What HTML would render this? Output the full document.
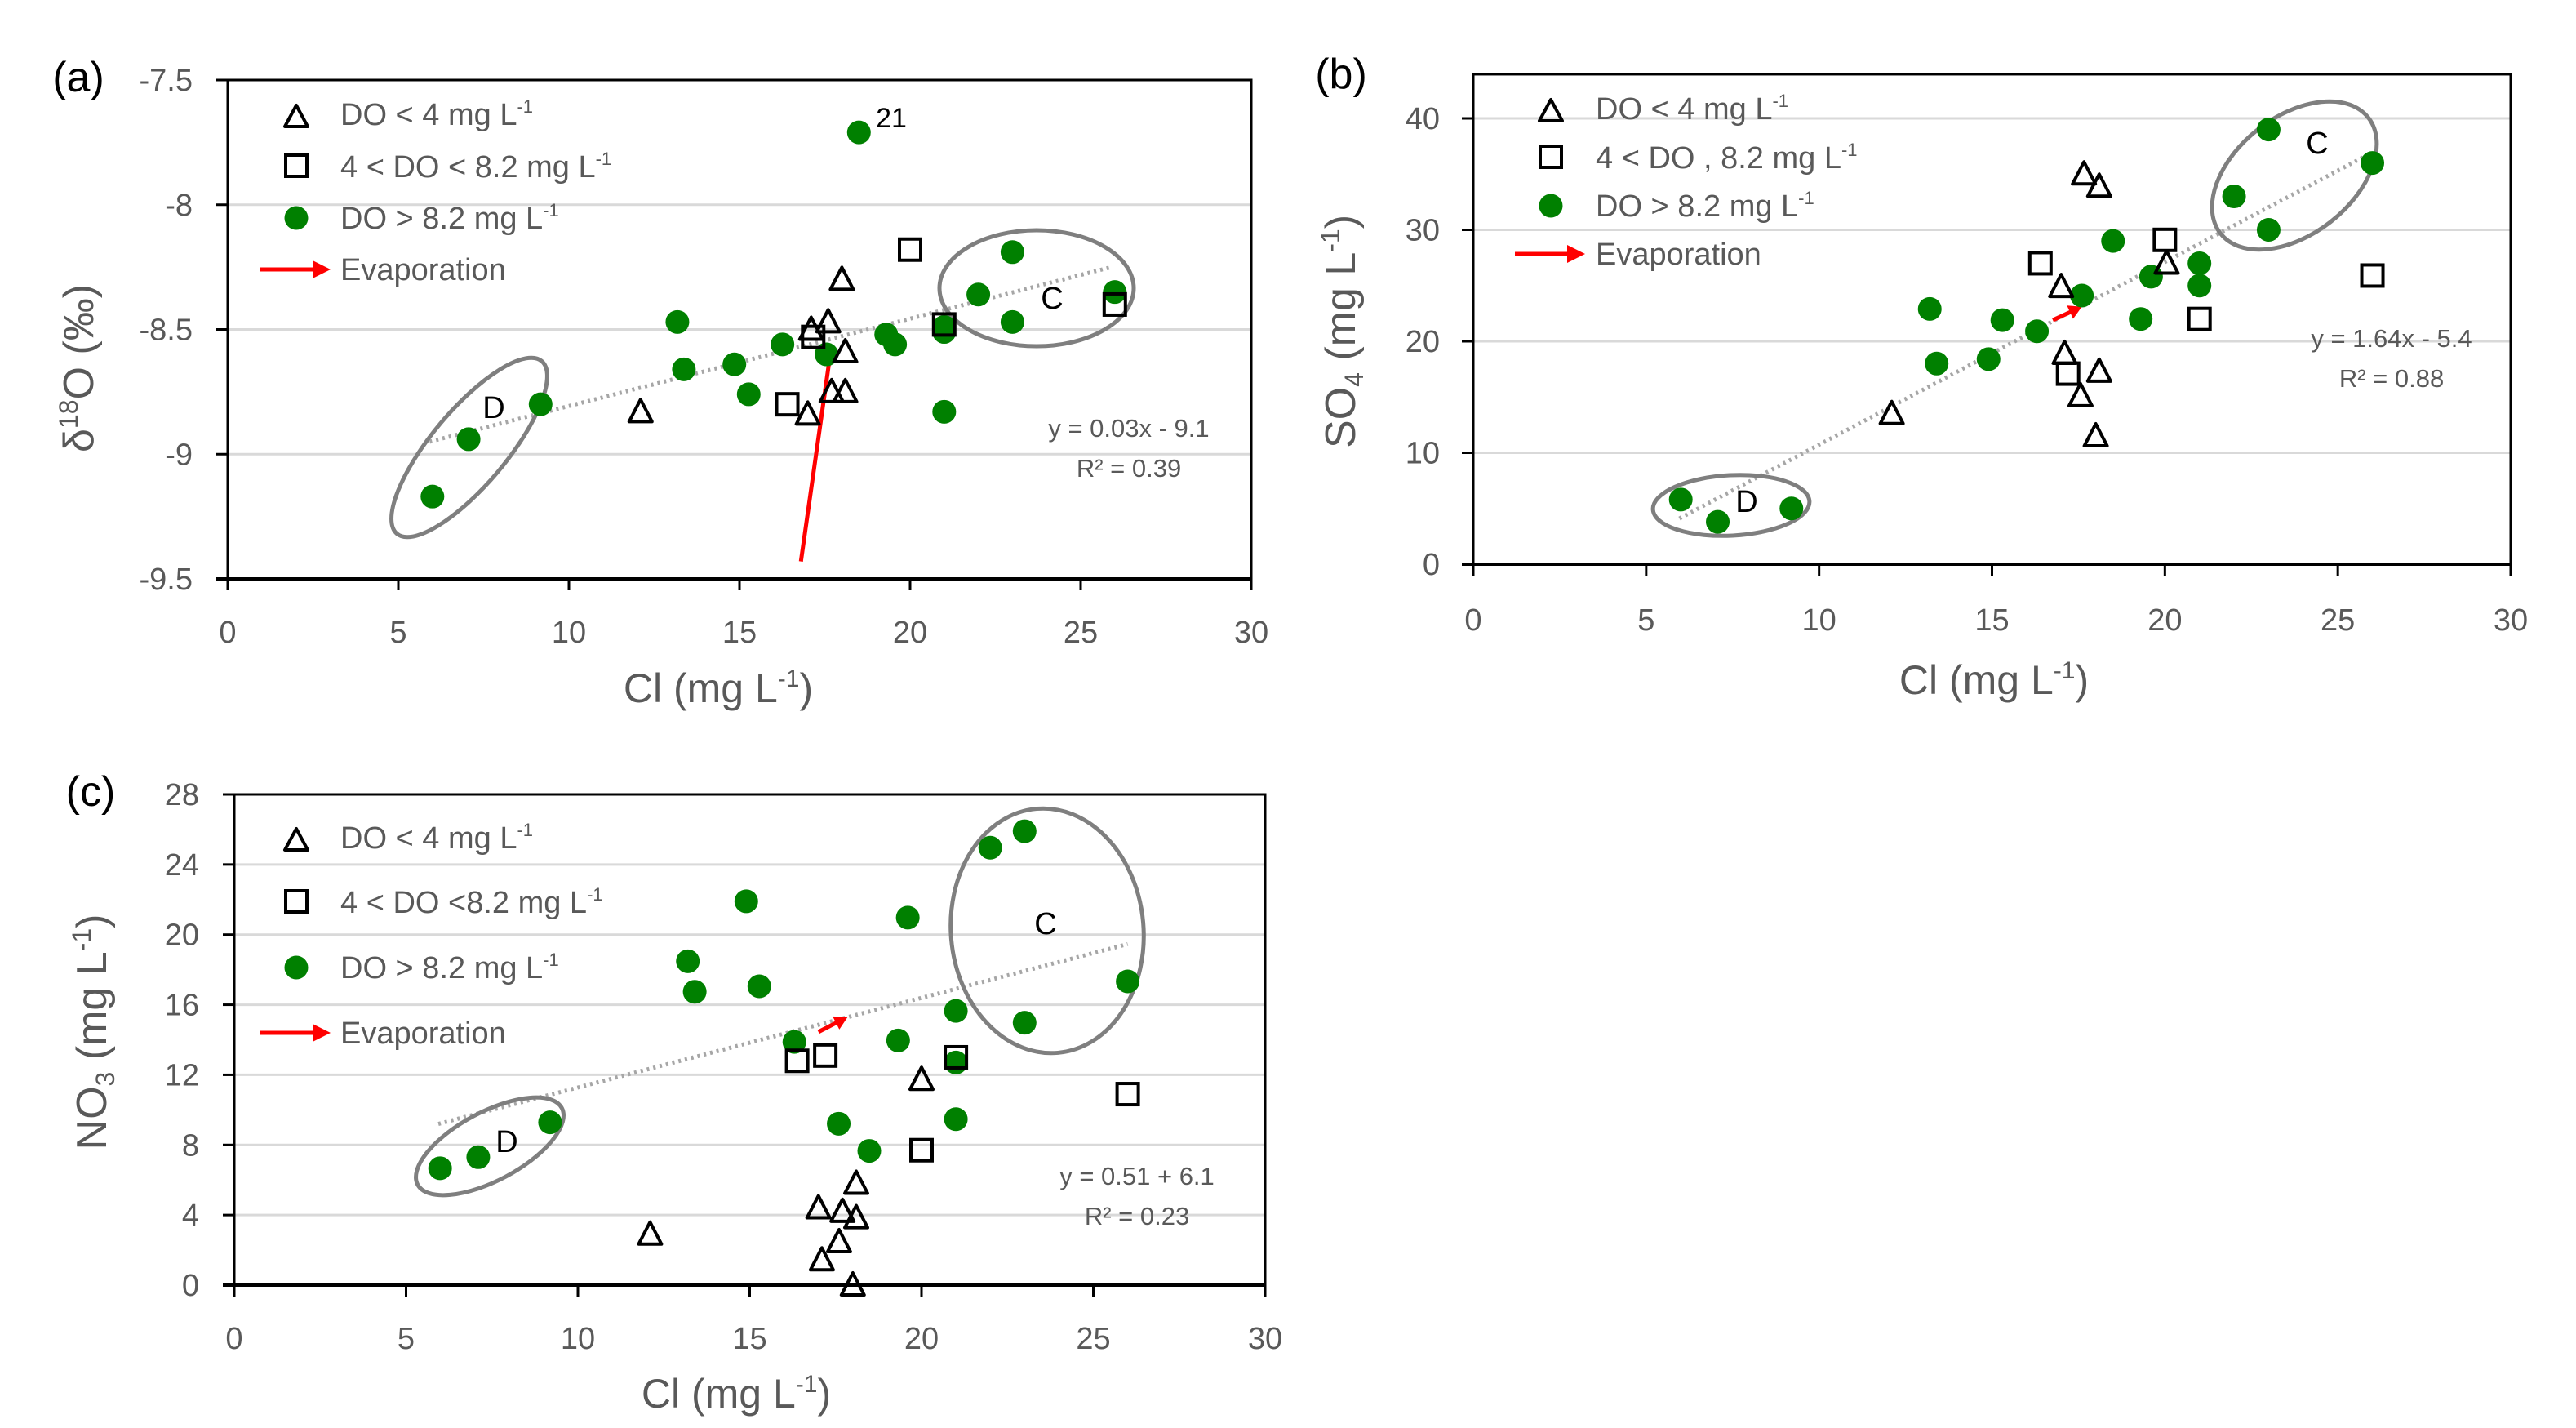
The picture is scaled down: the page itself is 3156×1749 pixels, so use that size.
<!DOCTYPE html>
<html><head><meta charset="utf-8">
<style>
html,body{margin:0;padding:0;background:#fff;}
svg{display:block;}
text{font-family:"Liberation Sans",sans-serif;}
</style></head>
<body>
<svg id="fig" width="3156" height="1749" viewBox="0 0 3156 1749" xmlns="http://www.w3.org/2000/svg"></svg>
<script>
// ---------- Panel (a) data: delta18O vs Cl ----------
const aLowX = [12.1, 18.0, 17.6, 17.1, 18.1, 17.7, 18.1, 17.0];
const aLowY = [-8.83, -8.30, -8.47, -8.50, -8.59, -8.75, -8.75, -8.84];
const aMidX = [20.0, 17.16, 16.4, 21.0, 26.0];
const aMidY = [-8.18, -8.53, -8.80, -8.48, -8.40];
const aHighX = [6.0, 7.06, 9.17, 13.18, 13.37, 14.85, 15.27, 16.26, 17.55, 18.5, 19.3, 19.56, 21.0, 21.0, 21.0, 22.0, 23.0, 23.0, 26.0];
const aHighY = [-9.17, -8.94, -8.80, -8.47, -8.66, -8.64, -8.76, -8.56, -8.60, -7.71, -8.52, -8.56, -8.49, -8.51, -8.83, -8.36, -8.19, -8.47, -8.35];
const aYTicks = [-7.5, -8, -8.5, -9, -9.5];
const aYTickLabels = ["-7.5", "-8", "-8.5", "-9", "-9.5"];
const aTrend = [[5.92, -8.95], [25.9, -8.25]];
const aEvap = [[16.8, -9.43], [17.67, -8.59]];

// ---------- Panel (b) data: SO4 vs Cl ----------
const bLowX = [12.1, 17.66, 18.1, 17.0, 17.1, 18.1, 17.56, 18.0, 20.05];
const bLowY = [13.5, 35.0, 33.9, 24.9, 18.9, 17.3, 15.1, 11.5, 27.0];
const bMidX = [16.4, 20.0, 17.2, 21.0, 26.0];
const bMidY = [27.0, 29.1, 17.1, 22.0, 25.9];
const bHighX = [6.0, 7.07, 9.2, 13.2, 13.4, 14.9, 15.3, 16.3, 17.6, 18.5, 19.3, 19.6, 21.0, 21.0, 22.0, 23.0, 23.0, 26.0];
const bHighY = [5.8, 3.8, 5.0, 22.9, 18.0, 18.4, 21.9, 20.9, 24.1, 29.0, 22.0, 25.8, 27.0, 25.0, 33.0, 39.0, 30.0, 36.0];
const bYTicks = [0, 10, 20, 30, 40];
const bYTickLabels = ["0", "10", "20", "30", "40"];
const bTrend = [[5.96, 4.1], [25.97, 36.9]];
const bEvap = [[16.76, 21.9], [17.6, 23.1]];

// ---------- Panel (c) data: NO3 vs Cl ----------
const cLowX = [12.1, 17.0, 17.7, 18.1, 18.1, 17.6, 17.1, 18.0, 20.0];
const cLowY = [2.9, 4.4, 4.2, 5.8, 3.84, 2.47, 1.43, 0, 11.73];
const cMidX = [16.38, 17.2, 21.0, 20.0, 26.0];
const cMidY = [12.8, 13.1, 13.0, 7.7, 10.9];
const cHighX = [5.99, 7.1, 9.19, 13.2, 13.4, 14.9, 15.28, 16.3, 17.59, 18.48, 19.32, 19.6, 21.0, 21.0, 21.0, 22.0, 23.0, 23.0, 26.0];
const cHighY = [6.67, 7.3, 9.29, 18.48, 16.74, 21.9, 17.05, 13.88, 9.21, 7.66, 13.96, 20.97, 15.65, 12.7, 9.47, 24.96, 25.9, 14.97, 17.33];
const cYTicks = [0, 4, 8, 12, 16, 20, 24, 28];
const cYTickLabels = ["0", "4", "8", "12", "16", "20", "24", "28"];
const cTrend = [[5.94, 9.2], [26.0, 19.46]];
const cEvap = [[17.0, 14.45], [17.85, 15.3]];

const xTicks = [0, 5, 10, 15, 20, 25, 30];
const xTickLabels = ["0", "5", "10", "15", "20", "25", "30"];

const NS = "http://www.w3.org/2000/svg";
const svg = document.getElementById('fig');
function mk(tag, attrs, parent, txt) {
  const e = document.createElementNS(NS, tag);
  for (const k in attrs) e.setAttribute(k, attrs[k]);
  if (txt !== undefined) e.textContent = txt;
  (parent || svg).appendChild(e);
  return e;
}
const GRAY = "#595959";

function panel(cfg) {
  const g = mk('g', {});
  
  
  const sx = v => cfg.x0 + (v - 0) / 30 * (cfg.x1 - cfg.x0);
  const sy = v => cfg.yb + (v - cfg.ymin) / (cfg.ymax - cfg.ymin) * (cfg.yt - cfg.yb);
  const top = sy(cfg.top);
  cfg.yTicks.forEach(t => {
    if (t === cfg.ymin || t === cfg.top) return;
    const l = mk('line', {x1: cfg.x0, x2: cfg.x1, y1: sy(t), y2: sy(t), stroke: '#d9d9d9', 'stroke-width': 3}, g);
    
    
  });
  const fr = mk('rect', {x: cfg.x0, y: top, width: cfg.x1 - cfg.x0, height: cfg.yb - top, fill: 'none', stroke: '#000', 'stroke-width': 3}, g);
  
  
  const xa = mk('line', {x1: cfg.x0 - 14, x2: cfg.x1, y1: cfg.yb, y2: cfg.yb, stroke: '#000', 'stroke-width': 4}, g);
  
  
  xTicks.forEach((t, i) => {
    mk('line', {x1: sx(t), x2: sx(t), y1: cfg.yb, y2: cfg.yb + 14, stroke: '#000', 'stroke-width': 3}, g);
    const tl = mk('text', {x: sx(t), y: cfg.xLabY, 'font-size': 38, fill: GRAY, 'text-anchor': 'middle'}, g, xTickLabels[i]);
    
    
  });
  cfg.yTicks.forEach((t, i) => {
    mk('line', {x1: cfg.x0 - 14, x2: cfg.x0, y1: sy(t), y2: sy(t), stroke: '#000', 'stroke-width': 3}, g);
    const tl = mk('text', {x: cfg.yLabX, y: sy(t) + 13, 'font-size': 38, fill: GRAY, 'text-anchor': 'end'}, g, cfg.yTickLabels[i]);
    
    
  });
  const tr = mk('line', {x1: sx(cfg.trend[0][0]), y1: sy(cfg.trend[0][1]), x2: sx(cfg.trend[1][0]), y2: sy(cfg.trend[1][1]), stroke: '#a6a6a6', 'stroke-width': 5, 'stroke-dasharray': '3 5'}, g);
  
  
  cfg.ellipses.forEach(e => {
    const el = mk('ellipse', {cx: e[0], cy: e[1], rx: e[2], ry: e[3], transform: `rotate(${e[4]} ${e[0]} ${e[1]})`, fill: 'none', stroke: '#7f7f7f', 'stroke-width': 5}, g);
    
    
  });
  cfg.annots.forEach(a => {
    const t = mk('text', {x: a[1], y: a[2], 'font-size': a[3], fill: '#000', 'text-anchor': 'middle'}, g, a[0]);
    
    
  });
  const ex1 = sx(cfg.evap[0][0]), ey1 = sy(cfg.evap[0][1]), ex2 = sx(cfg.evap[1][0]), ey2 = sy(cfg.evap[1][1]);
  const ang = Math.atan2(ey2 - ey1, ex2 - ex1);
  const ah = 16;
  const ev = mk('line', {x1: ex1, y1: ey1, x2: ex2 - Math.cos(ang) * ah * 0.6, y2: ey2 - Math.sin(ang) * ah * 0.6, stroke: '#ff0000', 'stroke-width': 5}, g);
  
  
  if (cfg.arrowHead) {
    const p = [[ex2, ey2], [ex2 - Math.cos(ang) * ah - Math.sin(ang) * 9, ey2 - Math.sin(ang) * ah + Math.cos(ang) * 9], [ex2 - Math.cos(ang) * ah + Math.sin(ang) * 9, ey2 - Math.sin(ang) * ah - Math.cos(ang) * 9]];
    mk('polygon', {points: p.map(q => q.join(',')).join(' '), fill: '#ff0000'}, g);
  }
  cfg.highX.forEach((v, i) => {
    const c = mk('circle', {cx: sx(v), cy: sy(cfg.highY[i]), r: 14.5, fill: '#008000'}, g);
    
    
  });
  cfg.midX.forEach((v, i) => {
    const x = sx(v), y = sy(cfg.midY[i]);
    const r = mk('rect', {x: x - 13, y: y - 13, width: 26, height: 26, fill: 'none', stroke: '#000', 'stroke-width': 4}, g);
    
    
  });
  cfg.lowX.forEach((v, i) => {
    const x = sx(v), y = sy(cfg.lowY[i]);
    const t = mk('polygon', {points: `${x},${y - 15} ${x - 14},${y + 12} ${x + 14},${y + 12}`, fill: 'none', stroke: '#000', 'stroke-width': 4, 'stroke-linejoin': 'round'}, g);
    
    
  });
  const e1 = mk('text', {x: cfg.eq[1], y: cfg.eq[2], 'font-size': 31, fill: GRAY, 'text-anchor': 'middle'}, g, cfg.eq[0]);
  
  
  const e2 = mk('text', {x: cfg.eq[1], y: cfg.eq[2] + 49, 'font-size': 31, fill: GRAY, 'text-anchor': 'middle'}, g, cfg.eq[3]);
  
  
  const L = cfg.leg;
  const lg = mk('g', {}, g);
  
  
  const mx = L.mx, tx = L.tx;
  const r0 = L.rows;
  mk('polygon', {points: `${mx},${r0[0] - 24} ${mx - 14},${r0[0] + 2} ${mx + 14},${r0[0] + 2}`, fill: 'none', stroke: '#000', 'stroke-width': 4, 'stroke-linejoin': 'round'}, lg);
  mk('rect', {x: mx - 13, y: r0[1] - 27, width: 26, height: 26, fill: 'none', stroke: '#000', 'stroke-width': 4}, lg);
  mk('circle', {cx: mx, cy: r0[2] - 13, r: 14.5, fill: '#008000'}, lg);
  mk('line', {x1: mx - 44, x2: mx + 24, y1: r0[3] - 13, y2: r0[3] - 13, stroke: '#ff0000', 'stroke-width': 5}, lg);
  mk('polygon', {points: `${mx + 42},${r0[3] - 13} ${mx + 20},${r0[3] - 24} ${mx + 20},${r0[3] - 2}`, fill: '#ff0000'}, lg);
  L.labels.forEach((s, i) => {
    const t = mk('text', {x: tx, y: r0[i], 'font-size': 38, fill: GRAY}, lg);
    
    
    t.appendChild(document.createTextNode(s));
    if (i < 3) {
      mk('tspan', {'font-size': 22, dy: -15}, t, '-1');
    }
  });
  const pl = mk('text', {x: cfg.plab[1], y: cfg.plab[2], 'font-size': 52, fill: '#000', 'text-anchor': 'middle'}, g, cfg.plab[0]);
  
  
  const xt = mk('text', {x: cfg.xt[0], y: cfg.xt[1], 'font-size': 50, fill: GRAY, 'text-anchor': 'middle'}, g);
  
  
  xt.appendChild(document.createTextNode('Cl  (mg L'));
  mk('tspan', {'font-size': 30, dy: -19}, xt, '-1');
  mk('tspan', {dy: 19}, xt, ')');
  const yt = mk('text', {x: 0, y: 0, transform: `translate(${cfg.yt2[0]},${cfg.yt2[1]}) rotate(-90)`, 'font-size': 52, fill: GRAY, 'text-anchor': 'middle'}, g);
  
  
  cfg.ytitle(yt);
}

panel({
  name: 'panel-a-d18o', x0: 279, x1: 1533, yb: 709, yt: 98, ymin: -9.5, ymax: -7.5, top: -7.5,
  yTicks: aYTicks, yTickLabels: aYTickLabels, yLabX: 236, xLabY: 787,
  lowX: aLowX, lowY: aLowY, midX: aMidX, midY: aMidY, highX: aHighX, highY: aHighY,
  trend: aTrend, evap: aEvap, arrowHead: false,
  ellipses: [[575, 548, 138, 46, -50], [1270, 353, 119, 71, 0]],
  annots: [['D', 605, 512, 38], ['C', 1289, 378, 38], ['21', 1092, 156, 34]],
  eq: ['y = 0.03x - 9.1', 1383, 535, 'R² = 0.39'],
  leg: {mx: 363, tx: 417, rows: [153, 217, 280, 343], labels: ['DO < 4 mg L', '4 < DO < 8.2 mg L', 'DO > 8.2 mg L', 'Evaporation']},
  plab: ['(a)', 96, 112], xt: [880, 860], yt2: [114, 451],
  ytitle: t => { t.appendChild(document.createTextNode('δ')); mk('tspan', {'font-size': 32, dy: -19}, t, '18'); mk('tspan', {dy: 19}, t, 'O (‰)'); }
});
panel({
  name: 'panel-b-so4', x0: 1805, x1: 3076, yb: 691, yt: 145, ymin: 0, ymax: 40, top: 43.96,
  yTicks: bYTicks, yTickLabels: bYTickLabels, yLabX: 1764, xLabY: 772,
  lowX: bLowX, lowY: bLowY, midX: bMidX, midY: bMidY, highX: bHighX, highY: bHighY,
  trend: bTrend, evap: bEvap, arrowHead: true,
  ellipses: [[2121, 619, 96, 37, -3], [2811, 215, 115, 72, -38]],
  annots: [['D', 2140, 627, 38], ['C', 2839, 188, 38]],
  eq: ['y = 1.64x - 5.4', 2930, 425, 'R² = 0.88'],
  leg: {mx: 1900, tx: 1955, rows: [146, 206, 265, 324], labels: ['DO < 4 mg L', '4 < DO , 8.2 mg L', 'DO > 8.2 mg L', 'Evaporation']},
  plab: ['(b)', 1643, 108], xt: [2443, 850], yt2: [1660, 406],
  ytitle: t => { t.appendChild(document.createTextNode('SO')); mk('tspan', {'font-size': 32, dy: 10}, t, '4'); mk('tspan', {dy: -10}, t, '  (mg L'); mk('tspan', {'font-size': 32, dy: -19}, t, '-1'); mk('tspan', {dy: 19}, t, ')'); }
});
panel({
  name: 'panel-c-no3', x0: 287, x1: 1550, yb: 1574, yt: 973, ymin: 0, ymax: 28, top: 28,
  yTicks: cYTicks, yTickLabels: cYTickLabels, yLabX: 244, xLabY: 1652,
  lowX: cLowX, lowY: cLowY, midX: cMidX, midY: cMidY, highX: cHighX, highY: cHighY,
  trend: cTrend, evap: cEvap, arrowHead: true,
  ellipses: [[600, 1404, 100, 42, -28], [1283, 1140, 118, 150, -5]],
  annots: [['D', 621, 1411, 38], ['C', 1281, 1144, 38]],
  eq: ['y = 0.51 + 6.1', 1393, 1451, 'R² = 0.23'],
  leg: {mx: 363, tx: 417, rows: [1039, 1118, 1198, 1278], labels: ['DO < 4 mg L', '4 < DO <8.2 mg L', 'DO > 8.2 mg L', 'Evaporation']},
  plab: ['(c)', 111, 987], xt: [902, 1724], yt2: [130, 1264],
  ytitle: t => { t.appendChild(document.createTextNode('NO')); mk('tspan', {'font-size': 32, dy: 10}, t, '3'); mk('tspan', {dy: -10}, t, '  (mg L'); mk('tspan', {'font-size': 32, dy: -19}, t, '-1'); mk('tspan', {dy: 19}, t, ')'); }
});
</script>
</body></html>
